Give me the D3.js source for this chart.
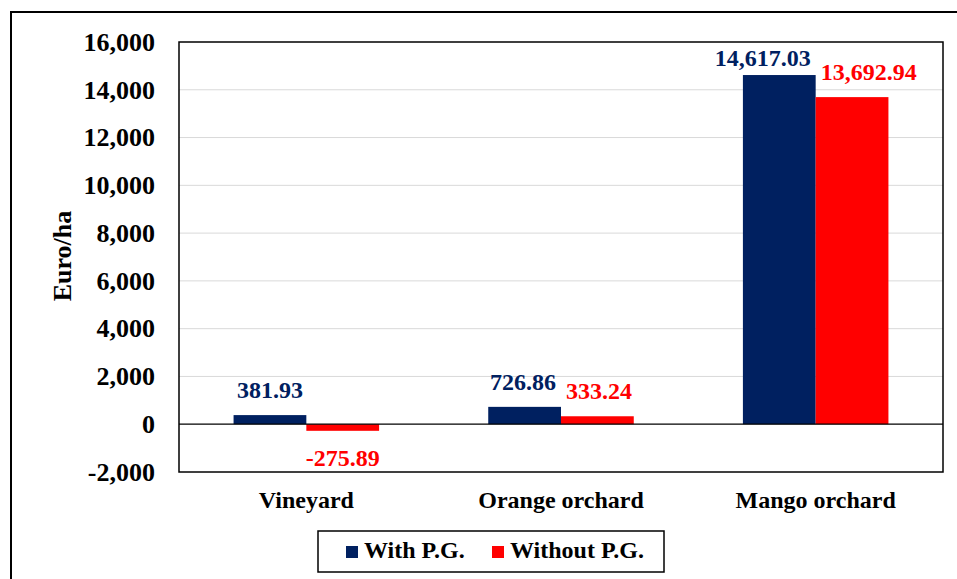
<!DOCTYPE html>
<html><head><meta charset="utf-8">
<script src="https://cdn.jsdelivr.net/npm/d3@7"></script>
<style>body{margin:0;background:#fff}svg{display:block}text{font-family:"Liberation Serif","Times New Roman",serif;font-weight:bold}</style>
</head><body><svg id="c" width="957" height="579"></svg>
<script>
const categories = ["Vineyard", "Orange orchard", "Mango orchard"];
const seriesNames = ["With P.G.", "Without P.G."];
const withPG = [381.93, 726.86, 14617.03];
const withoutPG = [-275.89, 333.24, 13692.94];
const yTicks = [-2000, 0, 2000, 4000, 6000, 8000, 10000, 12000, 14000, 16000];
const colors = ["#002060", "#FF0000"];

const loc = d3.formatLocale({decimal: ".", thousands: ",", grouping: [3], currency: ["", ""], minus: "-"});
const svg = d3.select("#c");
const L = 179, R = 943, T = 42, B = 472;

svg.append("rect").attr("x", 11).attr("y", 12).attr("width", 1000).attr("height", 700)
  .attr("fill", "none").attr("stroke", "#000").attr("stroke-width", 2);

const y = d3.scaleLinear().domain([-2000, 16000]).range([B, T]);
const x0 = d3.scaleBand().domain(categories).range([L, R]).paddingInner(0).paddingOuter(0);
const bw = x0.bandwidth() / 3.5;
const x1 = d3.scaleBand().domain(seriesNames).range([0, 2 * bw]);

// gridlines
svg.append("g").selectAll("line").data(yTicks.filter(d => d !== 0 && d !== -2000 && d !== 16000)).join("line")
  .attr("x1", L).attr("x2", R).attr("y1", d => y(d)).attr("y2", d => y(d))
  .attr("stroke", "#d9d9d9").attr("stroke-width", 1);

// y axis labels
const yAxis = d3.axisLeft(y).tickValues(yTicks).tickFormat(loc.format(",")).tickSize(0).tickPadding(24);
const ga = svg.append("g").attr("transform", `translate(${L},0)`).call(yAxis);
ga.select(".domain").remove();
ga.attr("font-family", null).attr("font-size", null);
ga.selectAll("text").attr("font-size", 26).attr("fill", "#000");

const data = categories.map((c, i) => ({c, vals: [withPG[i], withoutPG[i]]}));
const groups = svg.append("g").selectAll("g").data(data).join("g")
  .attr("transform", d => `translate(${x0(d.c) + (x0.bandwidth() - 2 * bw) / 2},0)`);

groups.selectAll("rect").data(d => d.vals.map((v, j) => ({v, s: seriesNames[j], j}))).join("rect")
  .attr("x", d => x1(d.s)).attr("width", x1.bandwidth())
  .attr("y", d => y(Math.max(0, d.v))).attr("height", d => Math.abs(y(d.v) - y(0)))
  .attr("fill", d => colors[d.j]);

const fmt = loc.format(",.2f");
const FS = 24;
groups.each(function(g) {
  const sel = d3.select(this);
  const items = g.vals.map((v, j) => ({v, s: seriesNames[j], j}));
  const texts = items.map(d => sel.append("text")
    .attr("x", x1(d.s) + x1.bandwidth() / 2)
    .attr("y", d.v >= 0 ? Math.max(y(d.v) - 17, T + FS) : y(d.v) + 35)
    .attr("text-anchor", "middle").attr("font-size", FS)
    .attr("fill", colors[d.j]).text(fmt(d.v)));
  // resolve horizontal overlap between the two labels
  const w = texts.map(t => t.node().getComputedTextLength());
  const cx = texts.map(t => +t.attr("x"));
  const by = texts.map(t => +t.attr("y"));
  if (Math.abs(by[0] - by[1]) < FS) {
    const overlap = (cx[0] + w[0] / 2) - (cx[1] - w[1] / 2) + 10;
    if (overlap > 0) {
      texts[0].attr("x", cx[0] - overlap / 2);
      texts[1].attr("x", cx[1] + overlap / 2);
    }
  }
});

// zero line
svg.append("line").attr("x1", L).attr("x2", R).attr("y1", y(0)).attr("y2", y(0))
  .attr("stroke", "#000").attr("stroke-width", 1.3);

// plot border
svg.append("rect").attr("x", L).attr("y", T).attr("width", R - L).attr("height", B - T)
  .attr("fill", "none").attr("stroke", "#000").attr("stroke-width", 1.5);

// category labels
svg.append("g").selectAll("text").data(categories).join("text")
  .attr("x", d => x0(d) + x0.bandwidth() / 2).attr("y", 508)
  .attr("text-anchor", "middle").attr("font-size", 24).attr("fill", "#000").text(d => d);

// y title
svg.append("text").attr("transform", "translate(71,256) rotate(-90)")
  .attr("text-anchor", "middle").attr("font-size", 26).attr("fill", "#000").text("Euro/ha");

// legend
const lg = svg.append("g");
lg.append("rect").attr("x", 318).attr("y", 531).attr("width", 346).attr("height", 41)
  .attr("fill", "#fff").attr("stroke", "#000").attr("stroke-width", 1.5);
const lx = [346, 492];
seriesNames.forEach((s, i) => {
  lg.append("rect").attr("x", lx[i]).attr("y", 546).attr("width", 12).attr("height", 12).attr("fill", colors[i]);
  lg.append("text").attr("x", lx[i] + 18).attr("y", 558).attr("font-size", 24).attr("fill", "#000").text(s);
});
</script></body></html>
